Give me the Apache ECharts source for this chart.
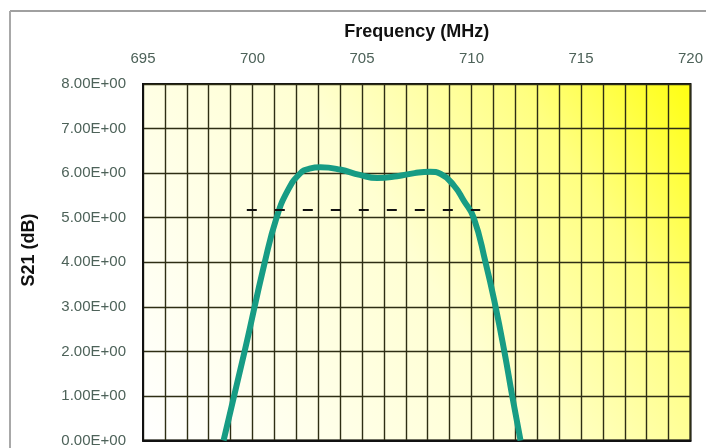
<!DOCTYPE html>
<html>
<head>
<meta charset="utf-8">
<script src="https://cdn.jsdelivr.net/npm/echarts@6/dist/echarts.min.js"></script>
<style>
  html, body { margin: 0; padding: 0; background: #fff; }
  #chart { width: 706px; height: 448px; }
</style>
</head>
<body>
<div id="chart"></div>
<script>
// S21 filter response
var freq = [698.68, 699.64, 700.56, 701.1, 701.6, 702.15, 702.6, 703.1,
            704.0, 704.9, 705.7, 706.6, 707.4, 708.1, 708.6, 709.2, 709.65,
            710.1, 710.64, 711.1, 711.5, 711.86, 712.24];
var s21 = [0, 2.0, 4.0, 5.0, 5.6, 5.98, 6.1, 6.13,
           6.08, 5.96, 5.89, 5.93, 6.0, 6.03, 5.98, 5.72, 5.38,
           5.0, 4.0, 3.0, 2.0, 1.0, 0];
// dashed bandwidth marker
var markerFreq = [699.74, 710.4];
var markerLevel = 5.17;
// axes
var xMin = 695, xMax = 720, xStep = 5;
var yMin = 0, yMax = 8, yStep = 1;

var curve = freq.map(function (f, i) { return [f, s21[i]]; });
var marker = markerFreq.map(function (f) { return [f, markerLevel]; });

var gridLine = { lineStyle: { color: '#2e2e14', width: 1.4 } };
var labelColor = '#4d6259';

var myChart = echarts.init(document.getElementById('chart'));
myChart.setOption({
    animation: false,
    grid: {
        left: 143, right: 15, top: 84, bottom: 7,
        show: true,
        borderColor: '#111',
        borderWidth: 2,
        backgroundColor: {
            type: 'linear', x: 0, y: 1, x2: 1, y2: 0,
            colorStops: [
                { offset: 0, color: '#ffffff' },
                { offset: 0.5, color: '#ffffd2' },
                { offset: 0.78, color: '#ffff80' },
                { offset: 1, color: '#ffff10' }
            ]
        }
    },
    graphic: [
        { type: 'line', shape: { x1: 10, y1: 11, x2: 706, y2: 11 }, style: { stroke: '#a0a0a0', lineWidth: 2 } },
        { type: 'line', shape: { x1: 10, y1: 11, x2: 10, y2: 448 }, style: { stroke: '#a8a8a8', lineWidth: 2 } },
        {
            type: 'text', x: 29, y: 250, rotation: Math.PI / 2,
            style: {
                text: 'S21 (dB)', font: 'bold 18px "Liberation Sans", Arial, sans-serif',
                fill: '#111', align: 'center', verticalAlign: 'middle'
            }
        }
    ],
    xAxis: {
        type: 'value',
        position: 'top',
        min: xMin, max: xMax, interval: xStep,
        name: 'Frequency (MHz)',
        nameLocation: 'middle',
        nameGap: 43,
        nameTextStyle: { fontFamily: 'Liberation Sans', fontWeight: 'bold', fontSize: 18, color: '#111' },
        axisLine: { show: true, lineStyle: { color: '#111', width: 2 } },
        axisTick: { show: false },
        axisLabel: { margin: 18, fontFamily: 'Liberation Sans', fontSize: 15, color: labelColor },
        splitLine: gridLine,
        minorTick: { show: false, splitNumber: 5 },
        minorSplitLine: { show: true, lineStyle: { color: '#2e2e14', width: 1.4 } }
    },
    yAxis: {
        type: 'value',
        min: yMin, max: yMax, interval: yStep,
        axisLine: { show: true, lineStyle: { color: '#111', width: 2 } },
        axisTick: { show: false },
        axisLabel: {
            margin: 17, fontFamily: 'Liberation Sans', fontSize: 15, color: labelColor,
            formatter: function (v) { return v.toFixed(2) + 'E+00'; }
        },
        splitLine: gridLine
    },
    series: [
        {
            type: 'line',
            data: curve,
            smooth: 0.5,
            symbol: 'none',
            lineStyle: { color: '#179c84', width: 6 },
            z: 3
        },
        {
            type: 'line',
            data: marker,
            symbol: 'none',
            lineStyle: { color: '#111', width: 2, type: [10, 18] },
            z: 4
        }
    ]
});
</script>
</body>
</html>
